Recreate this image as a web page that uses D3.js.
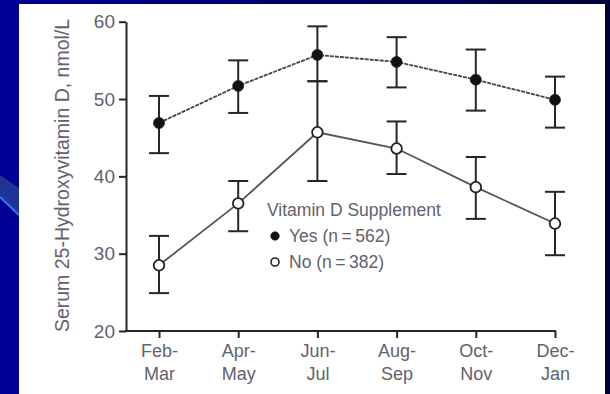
<!DOCTYPE html>
<html>
<head>
<meta charset="utf-8">
<script src="https://cdn.jsdelivr.net/npm/d3@7/dist/d3.min.js"></script>
<style>
  html, body { margin: 0; padding: 0; background: #000080; }
  svg { display: block; }
</style>
</head>
<body>
<svg id="chart" width="610" height="394"></svg>
<script>
// Season bins (two-line tick labels)
const seasons = [["Feb-", "Mar"], ["Apr-", "May"], ["Jun-", "Jul"], ["Aug-", "Sep"], ["Oct-", "Nov"], ["Dec-", "Jan"]];
const seasonKeys = seasons.map(s => s.join(""));

// Serum 25(OH)D means with 95% CI, supplement users
const yesMean  = [46.9, 51.7, 55.7, 54.8, 52.5, 49.9];
const yesLower = [43.0, 48.2, 52.3, 51.5, 48.5, 46.3];
const yesUpper = [50.4, 55.0, 59.4, 58.0, 56.4, 52.9];

// Non-users
const noMean  = [28.5, 36.5, 45.7, 43.6, 38.6, 33.9];
const noLower = [24.9, 32.9, 39.4, 40.3, 34.5, 29.8];
const noUpper = [32.3, 39.4, 52.3, 47.1, 42.5, 38.0];

const yTicks = [20, 30, 40, 50, 60];
const legendTitle = "Vitamin D Supplement";
const legendItems = ["Yes (n\u2009=\u2009562)", "No (n\u2009=\u2009382)"];
const yTitle = "Serum 25-Hydroxyvitamin D, nmol/L";

const svg = d3.select("#chart");
const W = 610, H = 394;
const font = "'Liberation Sans', Arial, Helvetica, sans-serif";
const textColor = "#62626c";
const ink = "#262626";

// Slide backdrop
const defs = svg.append("defs");
const grad = defs.append("linearGradient").attr("id", "bg").attr("x1", 0).attr("x2", 1).attr("y1", 0).attr("y2", 0);
grad.append("stop").attr("offset", "0%").attr("stop-color", "#000098");
grad.append("stop").attr("offset", "100%").attr("stop-color", "#000038");
svg.append("rect").attr("width", W).attr("height", H).attr("fill", "url(#bg)");

// Decorative diagonal swoosh on the left
svg.append("path").attr("d", "M0,175 L19,188 L19,215 L0,197 Z").attr("fill", "#1f3596");
svg.append("line").attr("x1", 0).attr("y1", 197).attr("x2", 19).attr("y2", 215)
  .attr("stroke", "#3d6cf2").attr("stroke-width", 2.2);

// White figure panel
svg.append("rect").attr("x", 19).attr("y", 4).attr("width", 586).attr("height", 390).attr("fill", "#ffffff");

// Scales
const axisX = 126;
const y = d3.scaleLinear().domain([20, 60]).range([331, 21.7]);
const x = d3.scalePoint().domain(seasonKeys).range([159, 555]);

// Y axis
const gy = svg.append("g").attr("transform", `translate(${axisX},0)`)
  .call(d3.axisLeft(y).tickValues(yTicks).tickSize(7).tickSizeOuter(0).tickPadding(4));
gy.select(".domain").attr("stroke", ink).attr("stroke-width", 2);
gy.selectAll(".tick line").attr("stroke", ink).attr("stroke-width", 2);
gy.selectAll(".tick text").attr("fill", textColor).style("font-family", font).style("font-size", "19px");

// X axis
const gx = svg.append("g").attr("transform", `translate(0,${y(20)})`)
  .call(d3.axisBottom(x).tickSize(7).tickSizeOuter(0).tickFormat(""));
gx.select(".domain").remove();
gx.append("line").attr("x1", axisX - 1).attr("x2", x(seasonKeys[seasonKeys.length - 1]) + 1)
  .attr("y1", 0).attr("y2", 0).attr("stroke", ink).attr("stroke-width", 2);
gx.selectAll(".tick line").attr("stroke", ink).attr("stroke-width", 2);
gx.selectAll(".tick").each(function(d, i) {
  const t = d3.select(this).append("text")
    .attr("text-anchor", "middle").attr("fill", textColor)
    .style("font-family", font).style("font-size", "18px");
  t.append("tspan").attr("x", 0).attr("y", 20).attr("dy", "0.35em").text(seasons[i][0]);
  t.append("tspan").attr("x", 0).attr("y", 43).attr("dy", "0.35em").text(seasons[i][1]);
});

// Y axis title
svg.append("text")
  .attr("transform", `translate(62,${(12 + 339) / 2}) rotate(-90)`)
  .attr("text-anchor", "middle").attr("dy", "0.35em")
  .attr("fill", textColor).style("font-family", font).style("font-size", "19.5px")
  .text(yTitle);

// Series
function drawSeries(mean, lower, upper, filled, lineStyle) {
  const g = svg.append("g");
  const pts = mean.map((m, i) => ({ k: seasonKeys[i], m, lo: lower[i], hi: upper[i] }));
  g.append("path").datum(pts)
    .attr("d", d3.line().x(d => x(d.k)).y(d => y(d.m)))
    .attr("fill", "none").attr("stroke", lineStyle.color).attr("stroke-width", lineStyle.width)
    .attr("stroke-dasharray", lineStyle.dash);
  const eb = g.selectAll(".eb").data(pts).join("g").attr("class", "eb");
  eb.append("line").attr("x1", d => x(d.k)).attr("x2", d => x(d.k))
    .attr("y1", d => y(d.lo)).attr("y2", d => y(d.hi))
    .attr("stroke", ink).attr("stroke-width", 2);
  [d => d.lo, d => d.hi].forEach(acc => {
    eb.append("line").attr("x1", d => x(d.k) - 10).attr("x2", d => x(d.k) + 10)
      .attr("y1", d => y(acc(d))).attr("y2", d => y(acc(d)))
      .attr("stroke", ink).attr("stroke-width", 2);
  });
  g.selectAll("circle").data(pts).join("circle")
    .attr("cx", d => x(d.k)).attr("cy", d => y(d.m))
    .attr("r", filled ? 5.5 : 5.3)
    .attr("fill", filled ? "#111" : "#fff")
    .attr("stroke", "#222").attr("stroke-width", filled ? 0.8 : 1.8);
}
drawSeries(noMean, noLower, noUpper, false, { color: "#555", width: 1.8, dash: null });
drawSeries(yesMean, yesLower, yesUpper, true, { color: "#444", width: 1.8, dash: "4,1" });

// Legend
const lg = svg.append("g").attr("transform", "translate(267,210)");
lg.append("text").attr("x", 0).attr("y", 0).attr("dy", "0.35em")
  .attr("fill", textColor).style("font-family", font).style("font-size", "17.5px")
  .text(legendTitle);
legendItems.forEach((label, i) => {
  const row = lg.append("g").attr("transform", `translate(0,${26 + i * 26})`);
  row.append("circle").attr("cx", 8).attr("cy", 0).attr("r", i === 0 ? 4.3 : 4)
    .attr("fill", i === 0 ? "#111" : "#fff").attr("stroke", "#222").attr("stroke-width", i === 0 ? 0.6 : 1.6);
  row.append("text").attr("x", 22).attr("y", 0).attr("dy", "0.35em")
    .attr("fill", textColor).style("font-family", font).style("font-size", "17.5px")
    .text(label);
});
</script>
</body>
</html>
